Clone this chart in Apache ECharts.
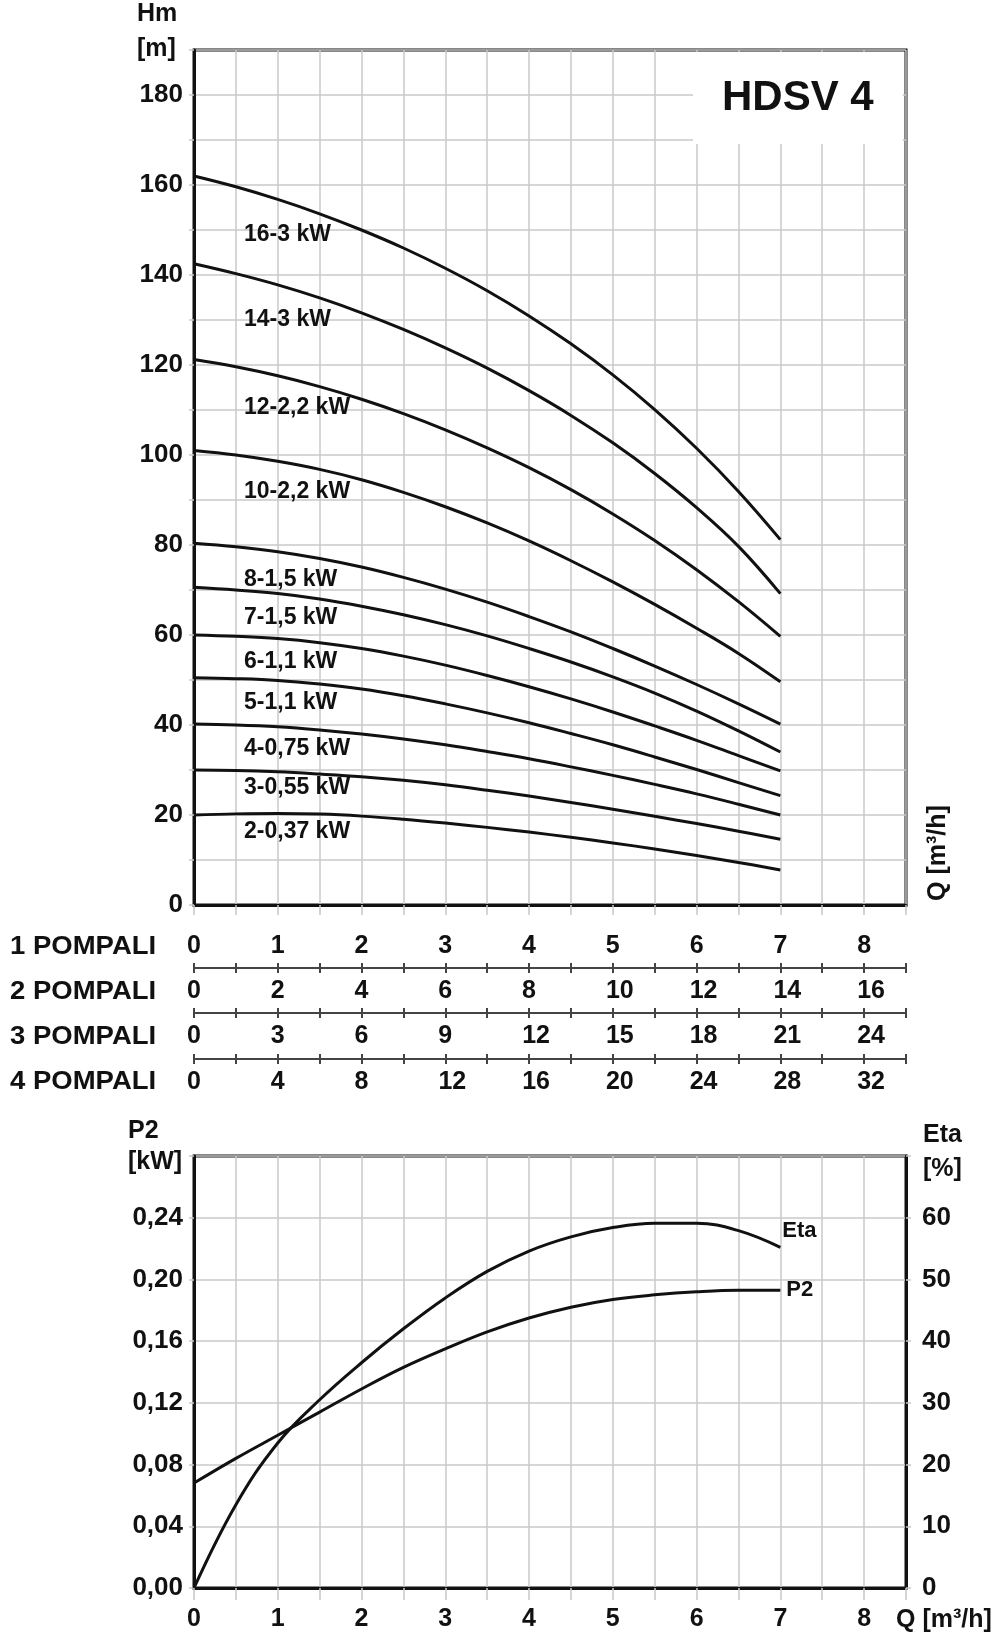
<!DOCTYPE html>
<html>
<head>
<meta charset="utf-8">
<script src="https://cdn.jsdelivr.net/npm/echarts@6/dist/echarts.min.js"></script>
<style>
html,body{margin:0;padding:0;background:#fff;}
#c{width:994px;height:1643px;}
</style>
</head>
<body>
<div id="c"></div>
<script>
// ---------------- DATA ----------------
const Q = [0, 0.5, 1, 1.5, 2, 2.5, 3, 3.5, 4, 4.5, 5, 5.5, 6, 6.5, 7];

const H_16 = [162, 159.6, 156.8, 153.6, 150.0, 146.0, 141.5, 136.5, 130.9, 124.7, 117.8, 110.1, 101.5, 91.9, 81.2];
const H_14 = [142.5, 140.3, 137.8, 134.9, 131.6, 127.9, 123.8, 119.3, 114.3, 108.8, 102.7, 95.9, 88.3, 79.7, 69.2];
const H_12 = [121.2, 119.6, 117.6, 115.2, 112.4, 109.2, 105.6, 101.6, 97.2, 92.3, 86.9, 81.0, 74.5, 67.4, 59.7];
const H_10 = [101, 100, 98.6, 96.8, 94.5, 91.7, 88.5, 84.9, 80.9, 76.5, 71.8, 66.8, 61.5, 55.9, 49.6];
const H_8  = [80.4, 79.6, 78.5, 77.0, 75.1, 72.8, 70.2, 67.3, 64.1, 60.7, 57.0, 53.1, 49.0, 44.7, 40.2];
const H_7  = [70.6, 70.0, 69.2, 68.0, 66.4, 64.5, 62.3, 59.8, 57.0, 54.0, 50.7, 47.1, 43.1, 38.7, 34.0];
const H_6  = [60, 59.7, 59.2, 58.3, 57.0, 55.3, 53.3, 51.0, 48.5, 45.8, 42.9, 39.8, 36.6, 33.2, 29.8];
const H_5  = [50.5, 50.3, 49.9, 49.1, 48.0, 46.5, 44.7, 42.7, 40.5, 38.1, 35.6, 32.9, 30.1, 27.2, 24.3];
const H_4  = [40.2, 40.0, 39.6, 38.9, 38.0, 36.9, 35.6, 34.1, 32.5, 30.7, 28.8, 26.8, 24.7, 22.4, 20.0];
const H_3  = [30, 29.9, 29.6, 29.1, 28.5, 27.7, 26.7, 25.5, 24.2, 22.8, 21.3, 19.7, 18.1, 16.4, 14.6];
const H_2  = [20, 20.25, 20.35, 20.2, 19.75, 19.05, 18.2, 17.25, 16.2, 15.05, 13.8, 12.45, 11.0, 9.45, 7.8];

const CURVES = [H_16, H_14, H_12, H_10, H_8, H_7, H_6, H_5, H_4, H_3, H_2];
const CURVE_NAMES = ['16-3 kW', '14-3 kW', '12-2,2 kW', '10-2,2 kW', '8-1,5 kW', '7-1,5 kW',
                     '6-1,1 kW', '5-1,1 kW', '4-0,75 kW', '3-0,55 kW', '2-0,37 kW'];

const P2  = [0.068, 0.084, 0.099, 0.114, 0.129, 0.143, 0.155, 0.166, 0.175, 0.182, 0.187, 0.190, 0.192, 0.193, 0.193];
const ETA = [0, 13.5, 23.5, 30.5, 36.5, 42, 47, 51.3, 54.6, 56.9, 58.4, 59.1, 59.1, 57.9, 55.2];

const ROW_NAMES = ['1 POMPALI', '2 POMPALI', '3 POMPALI', '4 POMPALI'];
const PUMP_COUNTS = [1, 2, 3, 4];

// ---------------- LAYOUT / STYLE ----------------
const F = '"Liberation Sans", Arial, sans-serif';
const INK = '#111';
const GRIDC = '#c8c8c8';
const Q_MAX = 8.5;

const LABEL_POS = [[244,235],[244,320],[244,408],[244,492],[244,580],[244,618],[244,662],[244,703],[244,749],[244,788],[244,832]];
const ROW_NAME_Y = [947, 992, 1037, 1082];

const lbl = (extra) => Object.assign({fontSize: 25, fontWeight: 'bold', color: INK, fontFamily: F}, extra || {});
const isMult = (v, s) => Math.abs(v / s - Math.round(v / s)) < 1e-6;
const rowFmt = (step) => (v) => {
  const r = Math.round(v * 100) / 100;
  if (!isMult(r, step)) return '';
  return r >= 10 ? '{w|' + r + '}' : String(r);
};
const richW = {w: {fontSize: 25, fontWeight: 'bold', color: INK, fontFamily: F, padding: [0, 0, 0, 14]}};

const xAxes = [];
// main Q axis (top chart), row 1 labels
xAxes.push({
  gridIndex: 0, type: 'value', min: 0, max: Q_MAX, interval: 0.5, position: 'bottom',
  axisLine: {show: true, lineStyle: {color: INK, width: 3}},
  axisTick: {show: true, length: 10, lineStyle: {color: GRIDC, width: 1.5}},
  splitLine: {show: true, lineStyle: {color: GRIDC, width: 1.5}},
  axisLabel: lbl({margin: 29, formatter: v => isMult(v, 1) ? String(v) : ''})
});
// rows 2..4 : axis lines with crossing ticks, labels for next row
const OFFS = [63, 108, 154];
for (let k = 0; k < 3; k++) {
  const n = PUMP_COUNTS[k + 1];
  xAxes.push({
    gridIndex: 0, type: 'value', min: 0, max: Q_MAX * n, interval: 0.5 * n, position: 'bottom', offset: OFFS[k],
    axisLine: {show: true, lineStyle: {color: '#444', width: 2}},
    axisTick: {show: true, length: 5, lineStyle: {color: '#444', width: 2}},
    splitLine: {show: false},
    axisLabel: lbl({margin: 11, formatter: rowFmt(n), rich: richW})
  });
  xAxes.push({
    gridIndex: 0, type: 'value', min: 0, max: Q_MAX * n, interval: 0.5 * n, position: 'bottom', offset: OFFS[k],
    axisLine: {show: false},
    axisTick: {show: true, inside: true, length: 5, lineStyle: {color: '#444', width: 2}},
    splitLine: {show: false},
    axisLabel: {show: false}
  });
}
// bottom chart Q axis
xAxes.push({
  gridIndex: 1, type: 'value', min: 0, max: Q_MAX, interval: 0.5, position: 'bottom',
  axisLine: {show: true, lineStyle: {color: INK, width: 3}},
  axisTick: {show: true, length: 12, lineStyle: {color: GRIDC, width: 1.5}},
  splitLine: {show: true, lineStyle: {color: GRIDC, width: 1.5}},
  axisLabel: lbl({margin: 19, formatter: v => isMult(v, 1) ? String(v) : ''})
});
const BOTTOM_X = xAxes.length - 1;

const yAxes = [
  {
    gridIndex: 0, type: 'value', min: 0, max: 190, interval: 10, position: 'left',
    axisLine: {show: true, lineStyle: {color: INK, width: 3}},
    axisTick: {show: true, length: 5, lineStyle: {color: GRIDC, width: 1.5}},
    splitLine: {show: true, lineStyle: {color: GRIDC, width: 1.5}},
    axisLabel: lbl({fontSize: 26, margin: 11, formatter: v => (isMult(v, 20) && v < 190) ? String(v) : ''})
  },
  {
    gridIndex: 1, type: 'value', min: 0, max: 0.28, interval: 0.04, position: 'left',
    axisLine: {show: true, lineStyle: {color: INK, width: 3}},
    axisTick: {show: true, length: 5, lineStyle: {color: GRIDC, width: 1.5}},
    splitLine: {show: true, lineStyle: {color: GRIDC, width: 1.5}},
    axisLabel: lbl({fontSize: 26, margin: 11, formatter: v => v < 0.279 ? v.toFixed(2).replace('.', ',') : ''})
  },
  {
    gridIndex: 1, type: 'value', min: 0, max: 70, interval: 10, position: 'right',
    axisLine: {show: true, lineStyle: {color: INK, width: 3}},
    axisTick: {show: true, length: 5, lineStyle: {color: GRIDC, width: 1.5}},
    splitLine: {show: false},
    axisLabel: lbl({fontSize: 26, margin: 16, formatter: v => v < 70 ? String(v) : ''})
  }
];

const series = CURVES.map((h, i) => ({
  name: CURVE_NAMES[i], type: 'line', xAxisIndex: 0, yAxisIndex: 0,
  data: Q.map((q, j) => [q, h[j]]),
  smooth: 0.4, symbol: 'none', silent: true,
  lineStyle: {color: INK, width: 3}
}));
series.push({
  name: 'P2', type: 'line', xAxisIndex: BOTTOM_X, yAxisIndex: 1,
  data: Q.map((q, j) => [q, P2[j]]),
  smooth: 0.4, symbol: 'none', silent: true,
  lineStyle: {color: INK, width: 3},
  endLabel: {show: true, formatter: 'P2', distance: 6, fontSize: 22, fontWeight: 'bold', color: INK, fontFamily: F}
});
series.push({
  name: 'Eta', type: 'line', xAxisIndex: BOTTOM_X, yAxisIndex: 2,
  data: Q.map((q, j) => [q, ETA[j]]),
  smooth: 0.4, symbol: 'none', silent: true,
  lineStyle: {color: INK, width: 3},
  endLabel: {show: true, formatter: 'Eta', distance: 2, offset: [0, -16], fontSize: 22, fontWeight: 'bold', color: INK, fontFamily: F}
});

const txt = (x, y, text, size, opts) => Object.assign({
  type: 'text', x: x, y: y, z: 100,
  style: {text: text, fill: INK, font: 'bold ' + size + 'px ' + F, align: 'left', verticalAlign: 'middle'}
}, opts || {});

const graphics = [];
CURVE_NAMES.forEach((n, i) => graphics.push(txt(LABEL_POS[i][0], LABEL_POS[i][1], n, 23)));
ROW_NAMES.forEach((n, i) => graphics.push(txt(10, ROW_NAME_Y[i], n, 25, {scaleX: 1.1})));
graphics.push(txt(137, 14, 'Hm', 25));
graphics.push(txt(137, 49, '[m]', 25));
graphics.push(txt(128, 1131, 'P2', 25));
graphics.push(txt(128, 1162, '[kW]', 25));
graphics.push(txt(923, 1135, 'Eta', 25));
graphics.push(txt(923, 1169, '[%]', 25));
graphics.push(txt(896, 1620, 'Q [m³/h]', 25));
const rq = txt(938, 853, 'Q [m³/h]', 25);
rq.rotation = Math.PI / 2;
rq.style.align = 'center';
graphics.push(rq);

const option = {
  backgroundColor: '#fff',
  animation: false,
  title: {
    text: 'HDSV 4', left: 693, top: 52,
    padding: [25, 29, 25, 29], backgroundColor: '#fff',
    textStyle: {fontSize: 42, fontWeight: 'bold', color: INK, fontFamily: F}
  },
  grid: [
    {left: 194, top: 50, width: 712, height: 855, show: true, borderColor: INK, borderWidth: 3, containLabel: false},
    {left: 194, top: 1156, width: 712, height: 432, show: true, borderColor: INK, borderWidth: 3, containLabel: false}
  ],
  xAxis: xAxes,
  yAxis: yAxes,
  series: series,
  graphic: graphics
};

const chart = echarts.init(document.getElementById('c'), null, {renderer: 'canvas'});
chart.setOption(option);
</script>
</body>
</html>
